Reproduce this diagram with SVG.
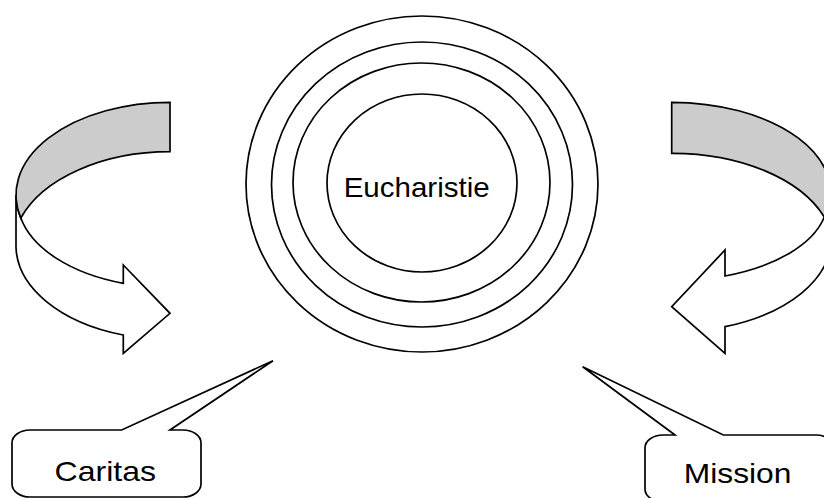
<svg xmlns="http://www.w3.org/2000/svg" width="824" height="498" viewBox="0 0 824 498">
  <style>
    .ln { fill: none; stroke: #000; stroke-width: 1.7; }
    .wh { fill: #fff; stroke: #000; stroke-width: 1.7; stroke-linejoin: miter; }
    .gy { fill: #cccccc; stroke: #000; stroke-width: 1.7; stroke-linejoin: miter; }
    .lbl { font-family: "Liberation Sans", Arial, sans-serif; font-size: 28px; fill: #000; }
  </style>
  <rect width="824" height="498" fill="#fff"/>

  <!-- concentric rings with the central label -->
  <g id="eucharistie">
    <ellipse class="ln" cx="422" cy="184" rx="176" ry="168"/>
    <ellipse class="ln" cx="422" cy="184.5" rx="150.5" ry="142.5"/>
    <ellipse class="ln" cx="421.5" cy="182.5" rx="128.5" ry="119.5"/>
    <ellipse class="ln" cx="422" cy="183" rx="95" ry="89"/>
    <text class="lbl" x="343.7" y="197.3" textLength="146" lengthAdjust="spacingAndGlyphs">Eucharistie</text>
  </g>

  <!-- curved block arrows on both sides -->
  <g id="connectors">
    <g id="arrow-left">
      <path class="wh" d="M16,195 L16,247 A154,94 0 0 0 123.3,335 L123.3,353.3 L170,313.3 L123.3,265 L123.3,283.3 A152,88 0 0 1 20.8,218 A154,92.7 0 0 1 16,195 Z"/>
      <path class="gy" d="M170,102.3 A154,92.7 0 0 0 20.8,218 A157.9,98.3 0 0 1 170,151.7 Z"/>
    </g>
    <g id="arrow-right">
      <path class="wh" d="M830.7,192.3 L830.7,240 A159,92 0 0 1 725,326.7 L725,353.3 L671.7,306.7 L725,250 L725,276 A155,80 0 0 0 824.3,217 Z"/>
      <path class="gy" d="M671.7,102.3 A159,90 0 0 1 824.3,217 A162,98 0 0 0 671.7,153.3 Z"/>
    </g>
  </g>

  <!-- speech-bubble callouts -->
  <g id="caritas">
    <path class="wh" d="M30,430 L121.7,430 L273,360.7 L170,430 L183,430 A18,13 0 0 1 201,443 L201,484 A18,13 0 0 1 183,497 L30,497 A18,13 0 0 1 12,484 L12,443 A18,13 0 0 1 30,430 Z"/>
    <text class="lbl" x="54.5" y="481" font-size="27" textLength="101.5" lengthAdjust="spacingAndGlyphs">Caritas</text>
  </g>

  <g id="mission">
    <path class="wh" d="M663,435 L675,435 L582.7,366.7 L723.3,435 L816,435 A18,13 0 0 1 834,448 L834,489 A18,13 0 0 1 816,502 L663,502 A18,13 0 0 1 645,489 L645,448 A18,13 0 0 1 663,435 Z"/>
    <text class="lbl" x="683.7" y="483.3" textLength="107.8" lengthAdjust="spacingAndGlyphs">Mission</text>
  </g>
</svg>
